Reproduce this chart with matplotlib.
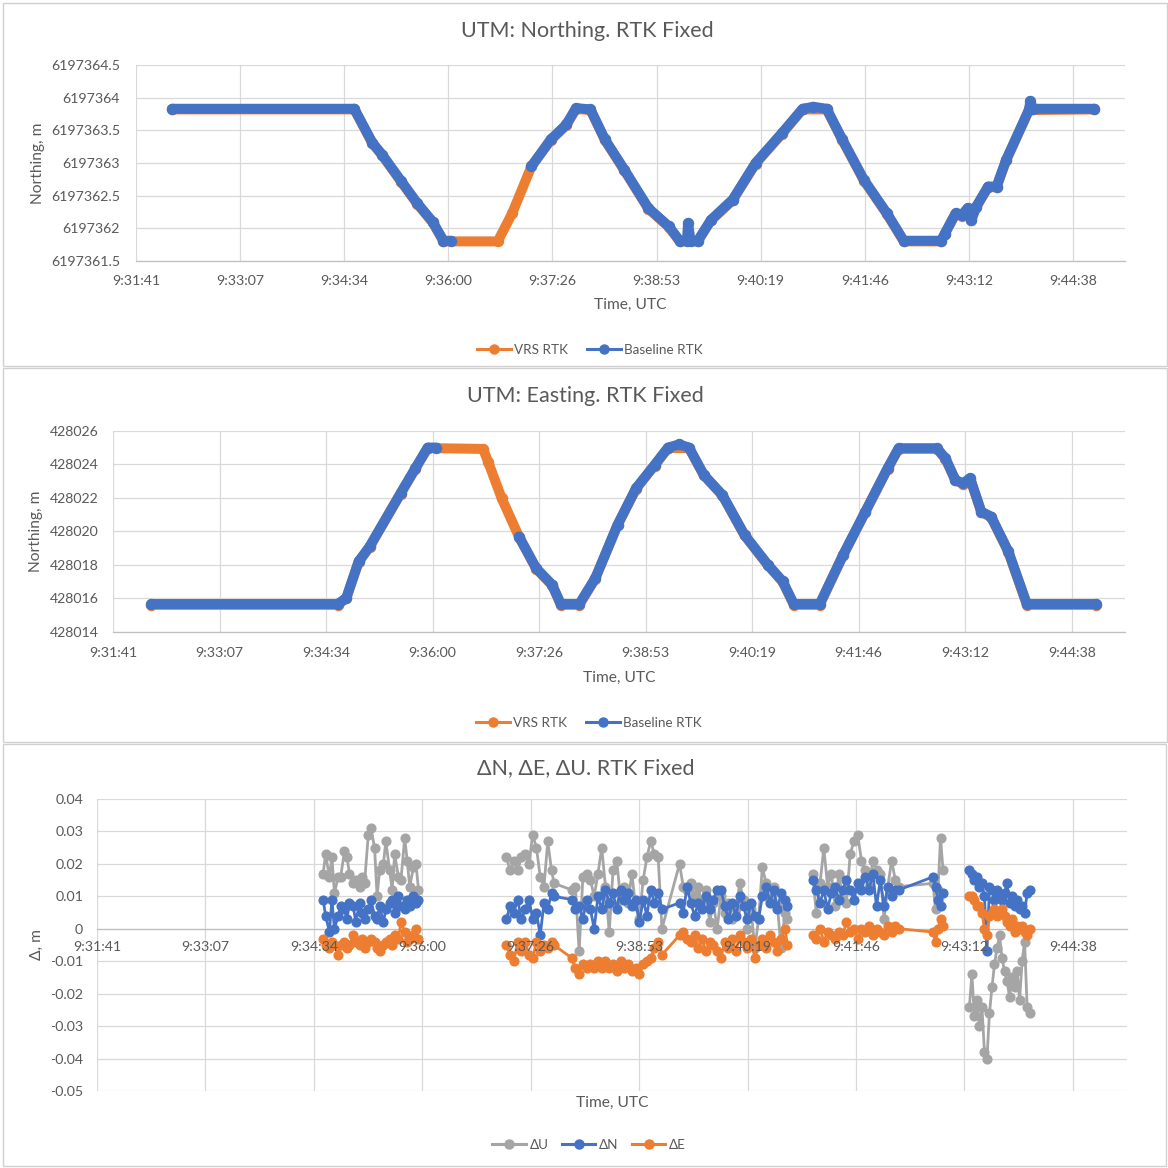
"""Recreate the three Excel-style RTK Fixed charts: northing, easting and N/E/U deltas."""
import matplotlib

matplotlib.use("Agg")
import matplotlib.pyplot as plt
import numpy as np
from matplotlib.lines import Line2D
from matplotlib.patches import Rectangle
from matplotlib.ticker import FuncFormatter

PX = 1168
ORANGE = "#ED7D31"
BLUE = "#4472C4"
GREY = "#A5A5A5"
TEXT = "#595959"
GRID = "#D9D9D9"
AXIS = "#BFBFBF"

plt.rcParams["font.family"] = ["Lato", "DejaVu Sans"]

# ---- UTM northing (m) -------------------------------------------------------
NORTH_VRS_TIME = ["9:32:11", "9:34:42", "9:34:57", "9:35:05", "9:35:21", "9:35:34", "9:35:47", "9:35:56",
                  "9:36:41", "9:36:53", "9:37:09", "9:37:25", "9:37:38", "9:37:46", "9:37:58", "9:38:10",
                  "9:38:26", "9:38:46", "9:39:03", "9:39:12", "9:39:27", "9:39:38", "9:39:56", "9:40:15",
                  "9:40:37", "9:40:54", "9:41:14", "9:41:27", "9:41:45", "9:42:04", "9:42:18", "9:42:49",
                  "9:42:52", "9:43:01", "9:43:06", "9:43:11", "9:43:14", "9:43:18", "9:43:28", "9:43:35",
                  "9:43:43", "9:44:02", "9:44:56"]
NORTH_VRS = [6197363.82, 6197363.82, 6197363.30, 6197363.12, 6197362.71, 6197362.38, 6197362.09, 6197361.80,
             6197361.80, 6197362.23, 6197362.95, 6197363.35, 6197363.58, 6197363.83, 6197363.81, 6197363.35,
             6197362.89, 6197362.30, 6197362.02, 6197361.80, 6197361.80, 6197362.12, 6197362.43, 6197362.99,
             6197363.45, 6197363.82, 6197363.82, 6197363.35, 6197362.73, 6197362.22, 6197361.80, 6197361.80,
             6197361.91, 6197362.22, 6197362.19, 6197362.30, 6197362.12, 6197362.32, 6197362.63, 6197362.63,
             6197363.04, 6197363.81, 6197363.82]
NORTH_BASE_TIME = ["9:32:11", "9:34:42", "9:34:57", "9:35:05", "9:35:21", "9:35:34", "9:35:47", "9:35:56",
                   "9:36:02", None, "9:37:09", "9:37:25", "9:37:38", "9:37:46", "9:37:58", "9:38:10",
                   "9:38:26", "9:38:46", "9:39:03", "9:39:12", "9:39:18", "9:39:19", "9:39:21", "9:39:27",
                   "9:39:38", "9:39:56", "9:40:15", "9:40:37", "9:40:54", "9:41:03", "9:41:14", "9:41:27",
                   "9:41:45", "9:42:04", "9:42:18", "9:42:49", "9:42:52", "9:43:01", "9:43:06", "9:43:11",
                   "9:43:14", "9:43:18", "9:43:28", "9:43:35", "9:43:43", "9:44:02", "9:44:03", "9:44:05",
                   "9:44:56"]
NORTH_BASE = [6197363.83, 6197363.83, 6197363.31, 6197363.13, 6197362.72, 6197362.39, 6197362.10, 6197361.81,
              6197361.81, None, 6197362.95, 6197363.36, 6197363.59, 6197363.84, 6197363.82, 6197363.36,
              6197362.90, 6197362.31, 6197362.03, 6197361.81, 6197361.81, 6197362.08, 6197361.81, 6197361.81,
              6197362.13, 6197362.44, 6197363.00, 6197363.46, 6197363.83, 6197363.86, 6197363.83, 6197363.36,
              6197362.74, 6197362.23, 6197361.81, 6197361.81, 6197361.92, 6197362.23, 6197362.20, 6197362.31,
              6197362.13, 6197362.33, 6197362.64, 6197362.64, 6197363.05, 6197363.82, 6197363.95, 6197363.83,
              6197363.83]

# ---- UTM easting (m) --------------------------------------------------------
EAST_VRS_TIME = ["9:32:12", "9:34:43", "9:34:50", "9:35:00", "9:35:09", "9:35:34", "9:35:46", "9:35:56",
                 "9:36:41", "9:36:45", "9:36:56", "9:37:10", "9:37:24", "9:37:37", "9:37:44", "9:37:59",
                 "9:38:12", "9:38:30", "9:38:45", "9:39:00", "9:39:11", "9:39:28", "9:39:40", "9:39:55",
                 "9:40:13", "9:40:32", "9:40:44", "9:40:53", "9:41:14", "9:41:33", "9:41:51", "9:42:09",
                 "9:42:18", "9:42:49", "9:42:56", "9:43:04", "9:43:10", "9:43:16", "9:43:25", "9:43:33",
                 "9:43:47", "9:44:02", "9:44:58"]
EAST_VRS = [428015.62, 428015.62, 428016.00, 428018.18, 428019.08, 428022.25, 428023.74, 428024.98,
            428024.93, 428024.17, 428021.99, 428019.70, 428017.78, 428016.79, 428015.62, 428015.62,
            428017.19, 428020.37, 428022.55, 428023.94, 428024.98, 428024.98, 428023.35, 428022.16,
            428019.77, 428017.98, 428016.99, 428015.62, 428015.62, 428018.58, 428021.16, 428023.74,
            428024.94, 428024.94, 428024.34, 428023.05, 428022.85, 428023.15, 428021.16, 428020.86,
            428018.78, 428015.62, 428015.62]
EAST_BASE_TIME = ["9:32:12", "9:34:43", "9:34:50", "9:35:00", "9:35:09", "9:35:34", "9:35:46", "9:35:56",
                  "9:36:03", None, "9:37:10", "9:37:24", "9:37:37", "9:37:44", "9:37:59", "9:38:12",
                  "9:38:30", "9:38:45", "9:39:00", "9:39:11", "9:39:20", "9:39:28", "9:39:40", "9:39:55",
                  "9:40:13", "9:40:32", "9:40:44", "9:40:53", "9:41:14", "9:41:33", "9:41:51", "9:42:09",
                  "9:42:18", "9:42:49", "9:42:56", "9:43:04", "9:43:10", "9:43:16", "9:43:25", "9:43:33",
                  "9:43:47", "9:44:02", "9:44:58"]
EAST_BASE = [428015.67, 428015.67, 428016.03, 428018.21, 428019.11, 428022.28, 428023.77, 428025.01,
             428025.01, None, 428019.70, 428017.81, 428016.82, 428015.67, 428015.67, 428017.22,
             428020.40, 428022.58, 428023.97, 428025.01, 428025.20, 428025.01, 428023.38, 428022.19,
             428019.80, 428018.01, 428017.02, 428015.67, 428015.67, 428018.61, 428021.19, 428023.77,
             428024.97, 428024.97, 428024.37, 428023.08, 428022.88, 428023.18, 428021.19, 428020.89,
             428018.81, 428015.67, 428015.67]

# ---- deltas VRS - baseline (m); None breaks the line ------------------------
DELTA_TIME = (
    ["9:34:41", "9:34:43", "9:34:46", "9:34:48", "9:34:50", "9:34:53", "9:34:55", "9:34:58", "9:35:00",
     "9:35:02", "9:35:05", "9:35:07", "9:35:10", "9:35:12", "9:35:14", "9:35:17", "9:35:19", "9:35:22",
     "9:35:24", "9:35:26", "9:35:29", "9:35:31", "9:35:34", "9:35:36", "9:35:38", "9:35:41", "9:35:43",
     "9:35:46", "9:35:48", "9:35:50", "9:35:53", "9:35:55", "9:35:57", None]
    + ["9:37:07", "9:37:10", "9:37:13", "9:37:16", "9:37:19", "9:37:22", "9:37:25", "9:37:28", "9:37:31",
       "9:37:34", "9:37:37", "9:37:40", "9:37:43", "9:37:45"]
    + ["9:37:59", "9:38:02", "9:38:05", "9:38:08", "9:38:11", "9:38:14", "9:38:17", "9:38:20", "9:38:23",
       "9:38:26", "9:38:29", "9:38:32", "9:38:35", "9:38:38", "9:38:41", "9:38:44", "9:38:47", "9:38:50",
       "9:38:53", "9:38:56", "9:38:59", "9:39:02", "9:39:05", "9:39:08", "9:39:11"]
    + ["9:39:25", "9:39:28", "9:39:31", "9:39:34", "9:39:37", "9:39:40", "9:39:43", "9:39:46", "9:39:49",
       "9:39:52", "9:39:55", "9:39:58", "9:40:01", "9:40:04", "9:40:07", "9:40:10", "9:40:13", "9:40:16",
       "9:40:19", "9:40:22", "9:40:25", "9:40:28", "9:40:31", "9:40:34", "9:40:37", "9:40:40", "9:40:43",
       "9:40:46", "9:40:49", "9:40:51", None]
    + ["9:41:11", "9:41:14", "9:41:17", "9:41:20", "9:41:23", "9:41:26", "9:41:29", "9:41:32", "9:41:35",
       "9:41:38", "9:41:41", "9:41:44", "9:41:47", "9:41:50", "9:41:53", "9:41:56", "9:41:59", "9:42:02",
       "9:42:05", "9:42:08", "9:42:11", "9:42:14", "9:42:17", "9:42:20"]
    + ["9:42:47", "9:42:49", "9:42:51", "9:42:53", "9:42:55", None]
    + ["9:43:16", "9:43:18", "9:43:20", "9:43:22", "9:43:24", "9:43:26", "9:43:28", "9:43:30", "9:43:32",
       "9:43:34", "9:43:36", "9:43:38", "9:43:40", "9:43:42", "9:43:44", "9:43:46", "9:43:48", "9:43:50",
       "9:43:52", "9:43:54", "9:43:56", "9:43:58", "9:44:00", "9:44:02", "9:44:04"]
)
DELTA_U = (
    [0.017, 0.023, 0.016, 0.022, 0.011, 0.016, 0.016, 0.024, 0.022, 0.017, 0.014, 0.015, 0.013, 0.016, 0.014,
     0.029, 0.031, 0.025, 0.010, 0.018, 0.020, 0.027, 0.018, 0.012, 0.023, 0.016, 0.015, 0.028, 0.021, 0.013,
     0.019, 0.020, 0.012, None]
    + [0.022, 0.018, 0.021, 0.018, 0.022, 0.023, 0.020, 0.029, 0.025, 0.016, 0.013, 0.027, 0.018, 0.014]
    + [0.012, 0.013, -0.007, 0.016, 0.017, 0.015, 0.010, 0.017, 0.025, 0.013, -0.001, 0.018, 0.021, 0.009,
       0.013, 0.008, 0.017, 0.007, 0.003, 0.015, 0.022, 0.027, 0.023, 0.022, 0.000]
    + [0.020, 0.013, 0.012, 0.014, 0.010, 0.013, 0.007, 0.012, 0.002, 0.008, 0.000, 0.010, 0.005, 0.008,
       0.003, 0.006, 0.014, 0.009, 0.000, 0.006, -0.006, 0.003, 0.019, 0.014, 0.009, 0.013, 0.007, -0.006,
       0.005, 0.003, None]
    + [0.017, 0.005, 0.014, 0.025, 0.013, 0.017, 0.007, 0.017, 0.009, 0.008, 0.023, 0.027, 0.029, 0.021,
       0.018, 0.013, 0.021, 0.018, 0.017, 0.003, 0.013, 0.021, 0.015, 0.013]
    + [0.014, 0.006, 0.012, 0.028, 0.018, None]
    + [-0.024, -0.014, -0.027, -0.022, -0.030, -0.024, -0.038, -0.040, -0.026, -0.018, -0.011, -0.006,
       -0.002, -0.009, -0.013, -0.016, -0.021, -0.015, -0.018, -0.013, -0.022, -0.010, -0.004, -0.024, -0.026]
)
DELTA_N = (
    [0.009, 0.004, -0.001, 0.009, 0.000, 0.004, 0.007, 0.006, 0.003, 0.008, 0.007, 0.002, 0.008, 0.005,
     0.003, 0.006, 0.009, 0.004, 0.003, 0.007, 0.002, 0.006, 0.008, 0.009, 0.005, 0.010, 0.007, 0.006,
     0.009, 0.007, 0.010, 0.008, 0.009, None]
    + [0.003, 0.007, 0.005, 0.009, 0.003, 0.006, 0.009, 0.003, 0.005, -0.002, 0.008, 0.006, 0.011, 0.010]
    + [0.009, 0.006, 0.007, 0.003, 0.009, 0.006, 0.000, 0.010, 0.006, 0.012, 0.008, 0.011, 0.006, 0.012,
       0.009, 0.011, 0.007, 0.009, 0.002, 0.009, 0.004, 0.012, 0.008, 0.011, 0.006]
    + [0.008, 0.005, 0.013, 0.008, 0.004, 0.008, 0.006, 0.010, 0.006, 0.009, 0.012, 0.012, 0.007, 0.003,
       0.008, 0.004, 0.010, 0.007, 0.003, 0.008, 0.004, 0.003, 0.010, 0.013, 0.008, 0.012, 0.006, 0.011,
       0.009, 0.007, None]
    + [0.015, 0.012, 0.008, 0.012, 0.006, 0.011, 0.013, 0.009, 0.012, 0.015, 0.012, 0.009, 0.014, 0.012,
       0.016, 0.012, 0.017, 0.007, 0.015, 0.007, 0.013, 0.010, 0.012, 0.012]
    + [0.016, 0.013, 0.009, 0.007, 0.011, None]
    + [0.018, 0.017, 0.015, 0.016, 0.013, 0.014, 0.010, -0.007, 0.013, 0.012, 0.009, 0.012, 0.010, 0.009,
       0.011, 0.014, 0.008, 0.010, 0.007, 0.009, 0.006, 0.007, 0.005, 0.011, 0.012]
)
DELTA_E = (
    [-0.003, -0.005, -0.006, -0.004, -0.005, -0.008, -0.005, -0.004, -0.006, -0.005, -0.002, -0.004, -0.005,
     -0.003, -0.006, -0.004, -0.003, -0.004, -0.006, -0.007, -0.005, -0.004, -0.003, -0.005, -0.002, -0.003,
     0.002, -0.001, -0.004, -0.003, -0.002, 0.000, -0.003, None]
    + [-0.005, -0.008, -0.010, -0.004, -0.007, -0.004, -0.008, -0.009, -0.004, -0.007, -0.005, -0.006,
       -0.004, -0.005]
    + [-0.009, -0.012, -0.014, -0.011, -0.012, -0.011, -0.012, -0.010, -0.012, -0.010, -0.012, -0.011,
       -0.013, -0.010, -0.012, -0.011, -0.013, -0.012, -0.014, -0.011, -0.010, -0.009, -0.006, -0.004, -0.008]
    + [-0.002, -0.001, -0.003, -0.004, -0.002, -0.006, -0.003, -0.007, -0.004, -0.005, -0.007, -0.009,
       -0.004, -0.006, -0.003, -0.007, -0.002, -0.004, -0.006, -0.003, -0.009, -0.005, -0.003, -0.006,
       -0.002, -0.004, -0.007, -0.003, 0.000, -0.005, None]
    + [-0.002, -0.003, 0.000, -0.004, -0.001, -0.002, -0.003, -0.001, -0.002, 0.002, -0.001, 0.000, -0.003,
       0.000, -0.001, 0.001, -0.002, 0.000, -0.001, -0.002, 0.001, -0.001, 0.001, 0.000]
    + [-0.001, -0.004, 0.000, 0.003, 0.001, None]
    + [0.010, 0.010, 0.009, 0.007, 0.007, 0.005, 0.000, -0.002, 0.004, 0.005, 0.006, 0.004, 0.005, 0.006,
       0.004, 0.002, 0.001, 0.003, -0.001, 0.001, 0.000, 0.001, -0.001, -0.002, 0.000]
)

# Excel time axis: serial day fractions, major unit 0.001 day
X_MIN, X_MAX, X_STEP = 0.397, 0.4065, 0.001
TICK_SIZE = 10.2
TITLE_SIZE = 15.5
LABEL_SIZE = 11.2


def to_days(stamps):
    out = []
    for s in stamps:
        if s is None:
            out.append(np.nan)
        else:
            h, m, sec = (int(p) for p in s.split(":"))
            out.append((h * 3600 + m * 60 + sec) / 86400)
    return np.array(out)


def to_values(values):
    return np.array([np.nan if v is None else v for v in values], dtype=float)


def time_label(v, _pos=None):
    total = int(round(v * 86400))
    return f"{total // 3600}:{total % 3600 // 60:02d}:{total % 60:02d}"


def fx(x):
    return x / PX


def fy(y):
    return 1 - y / PX


def add_axes(box):
    x0, y0, x1, y1 = box
    return fig.add_axes([fx(x0), fy(y1), (x1 - x0) / PX, (y1 - y0) / PX])


def style(ax, ylim, ystep, yfmt, ypad, xpad):
    ax.set_xlim(X_MIN, X_MAX)
    ax.set_xticks([X_MIN + X_STEP * k for k in range(10)])
    ax.xaxis.set_major_formatter(FuncFormatter(time_label))
    ax.set_ylim(*ylim)
    n = int(round((ylim[1] - ylim[0]) / ystep))
    ax.set_yticks([ylim[0] + ystep * k for k in range(n + 1)])
    ax.yaxis.set_major_formatter(FuncFormatter(yfmt))
    ax.grid(True, color=GRID, lw=0.9)
    ax.set_axisbelow(True)
    for side in ("left", "right", "top"):
        ax.spines[side].set_visible(False)
    ax.spines["bottom"].set_color(AXIS)
    ax.spines["bottom"].set_linewidth(0.9)
    ax.tick_params(axis="y", length=0, pad=ypad, labelsize=TICK_SIZE, labelcolor=TEXT)
    ax.tick_params(axis="x", length=0, pad=xpad, labelsize=TICK_SIZE, labelcolor=TEXT)
    ax.set_facecolor("none")


def panel_frame(x0, y0, x1, y1):
    fig.add_artist(Rectangle((fx(x0), fy(y1)), (x1 - x0) / PX, (y1 - y0) / PX,
                             transform=fig.transFigure, fill=False, edgecolor="#D0D0D0", lw=1.0))


def legend(items, cx, cy, spacing):
    handles = [Line2D([], [], color=c, lw=2.2, marker="o", ms=6.5) for c, _ in items]
    fig.legend(handles, [t for _, t in items], loc="center", bbox_to_anchor=(fx(cx), fy(cy)),
               ncol=len(items), frameon=False, fontsize=9.7, labelcolor=TEXT, handlelength=2.5,
               handletextpad=0.25, columnspacing=spacing, borderpad=0)


def thick(ax, t, v, color):
    ax.plot(to_days(t), to_values(v), color=color, lw=7.2, marker="o", ms=7.2,
            solid_capstyle="round", solid_joinstyle="round", zorder=3)


fig = plt.figure(figsize=(PX / 100, PX / 100), dpi=100)
fig.patch.set_facecolor("white")

panel_frame(3, 3, 1167, 366)
panel_frame(3, 368, 1167, 742)
panel_frame(3, 744, 1166, 1166)

# --- northing ---
ax1 = add_axes((136, 65, 1125, 261))
style(ax1, (6197361.5, 6197364.5), 0.5, lambda v, _: f"{v:.1f}".rstrip("0").rstrip("."), 11.5, 10)
thick(ax1, NORTH_VRS_TIME, NORTH_VRS, ORANGE)
thick(ax1, NORTH_BASE_TIME, NORTH_BASE, BLUE)
fig.text(fx(587), fy(31), "UTM: Northing. RTK Fixed", ha="center", va="center", fontsize=TITLE_SIZE, color=TEXT)
fig.text(fx(630), fy(305), "Time, UTC", ha="center", va="center", fontsize=LABEL_SIZE, color=TEXT)
fig.text(fx(38), fy(163), "Northing, m", ha="center", va="center", rotation=90, fontsize=LABEL_SIZE, color=TEXT)
legend([(ORANGE, "VRS RTK"), (BLUE, "Baseline RTK")], 590, 350, 1.4)

# --- easting ---
ax2 = add_axes((113, 431, 1125, 632))
style(ax2, (428014, 428026), 2, lambda v, _: f"{v:.0f}", 10, 10.5)
thick(ax2, EAST_VRS_TIME, EAST_VRS, ORANGE)
thick(ax2, EAST_BASE_TIME, EAST_BASE, BLUE)
fig.text(fx(585), fy(396), "UTM: Easting. RTK Fixed", ha="center", va="center", fontsize=TITLE_SIZE, color=TEXT)
fig.text(fx(619), fy(678), "Time, UTC", ha="center", va="center", fontsize=LABEL_SIZE, color=TEXT)
fig.text(fx(36), fy(531), "Northing, m", ha="center", va="center", rotation=90, fontsize=LABEL_SIZE, color=TEXT)
legend([(ORANGE, "VRS RTK"), (BLUE, "Baseline RTK")], 589, 723, 1.4)

# --- deltas ---
ax3 = add_axes((97, 799, 1127, 1091))
style(ax3, (-0.05, 0.04), 0.01, lambda v, _: "0" if abs(v) < 1e-9 else f"{v:.2f}", 10, 9)
ax3.spines["bottom"].set_position(("data", 0))
ax3.tick_params(axis="x", labelbottom=False)
dt = to_days(DELTA_TIME)
for vals, color in ((DELTA_U, GREY), (DELTA_N, BLUE), (DELTA_E, ORANGE)):
    ax3.plot(dt, to_values(vals), color=color, lw=2.0, marker="o", ms=6.3, zorder=3)
for tick in ax3.get_xticks():
    ax3.annotate(time_label(tick), (tick, 0), xytext=(0, -8.5), textcoords="offset points",
                 ha="center", va="top", fontsize=TICK_SIZE, color=TEXT, zorder=6, annotation_clip=False)
fig.text(fx(586), fy(768), "ΔN, ΔE, ΔU. RTK Fixed", ha="center", va="center", fontsize=TITLE_SIZE, color=TEXT)
fig.text(fx(612), fy(1103), "Time, UTC", ha="center", va="center", fontsize=LABEL_SIZE, color=TEXT)
fig.text(fx(37), fy(945), "Δ, m", ha="center", va="center", rotation=90, fontsize=LABEL_SIZE, color=TEXT)
legend([(GREY, "ΔU"), (BLUE, "ΔN"), (ORANGE, "ΔE")], 589, 1145, 1.0)

assert len(DELTA_TIME) == len(DELTA_U) == len(DELTA_N) == len(DELTA_E)
fig.savefig("out.png", dpi=100)
